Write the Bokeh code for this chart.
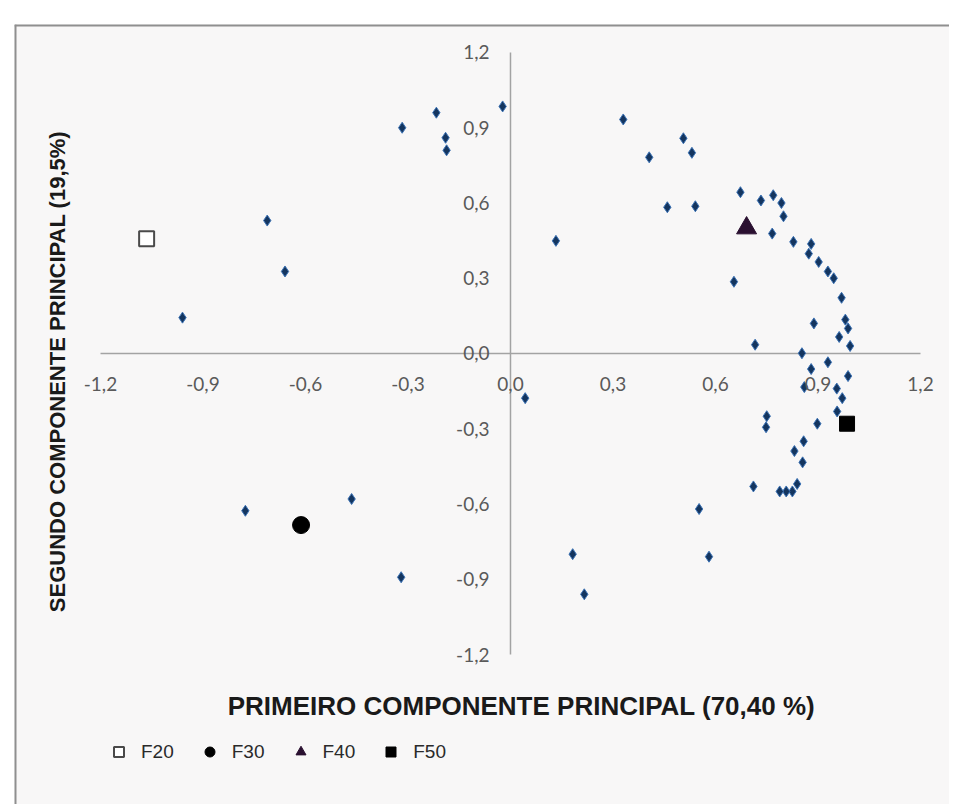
from bokeh.plotting import figure
from bokeh.models import FixedTicker, Legend, LegendItem, Range1d, Label, Span
from bokeh.embed import file_html
from bokeh.resources import INLINE

# ---- data ----
var_x = [-0.317, -0.217, -0.19, -0.187, -0.023, -0.712, -0.66, -0.96,
         0.33, 0.506, 0.531, 0.406, 0.673, 0.733, 0.769, 0.793, 0.799,
         0.459, 0.541, 0.766, 0.133, 0.828, 0.88, 0.873, 0.902, 0.929,
         0.946, 0.654, 0.969, 0.98, 0.988, 0.962, 0.888, 0.994, 0.716,
         0.853, 0.929, 0.88, 0.988, 0.86, 0.955, 0.971, 0.956, 0.898,
         0.75, 0.748, 0.858, 0.831, 0.855, 0.839, 0.825, 0.807, 0.788,
         0.711, 0.552, 0.581, 0.182, 0.216, 0.043, -0.776, -0.465, -0.32]
var_y = [0.90, 0.96, 0.86, 0.81, 0.985, 0.53, 0.327, 0.143,
         0.933, 0.858, 0.80, 0.782, 0.643, 0.61, 0.631, 0.60, 0.547,
         0.583, 0.587, 0.478, 0.449, 0.445, 0.437, 0.398, 0.365, 0.327,
         0.30, 0.286, 0.222, 0.135, 0.10, 0.066, 0.12, 0.03, 0.035,
         0.001, -0.035, -0.062, -0.09, -0.134, -0.14, -0.178, -0.231, -0.28,
         -0.25, -0.294, -0.35, -0.389, -0.434, -0.52, -0.55, -0.55, -0.55,
         -0.53, -0.62, -0.81, -0.80, -0.96, -0.178, -0.627, -0.58, -0.892]

f20_x, f20_y = [-1.065], [0.457]
f30_x, f30_y = [-0.613], [-0.684]
f40_x, f40_y = [0.691], [0.50]
f50_x, f50_y = [0.985], [-0.28]

ticks = [-1.2, -0.9, -0.6, -0.3, 0.0, 0.3, 0.6, 0.9, 1.2]
tick_labels = ["-1,2", "-0,9", "-0,6", "-0,3", "0,0", "0,3", "0,6", "0,9", "1,2"]

x_title = "PRIMEIRO COMPONENTE PRINCIPAL (70,40 %)"
y_title = "SEGUNDO COMPONENTE PRINCIPAL (19,5%)"

FONT = "Liberation Sans"
BG = "#f8f7f7"

# view extends beyond the +-1.2 axes to leave room for titles and legend
X_START, X_END = -1.4517, 1.2849
Y_START, Y_END = -1.798, 1.3116

p = figure(frame_width=935, frame_height=780,
           x_range=Range1d(X_START, X_END), y_range=Range1d(Y_START, Y_END),
           output_backend="svg", toolbar_location=None,
           min_border_left=14, min_border_top=24, min_border_right=0,
           min_border_bottom=0,
           background_fill_color=BG, border_fill_color="white",
           outline_line_color=None)

p.grid.visible = False
overrides = {t: l for t, l in zip(ticks, tick_labels)}
for ax, standoff in ((p.xaxis[0], 18), (p.yaxis[0], 15)):
    ax.fixed_location = 0
    ax.ticker = FixedTicker(ticks=ticks)
    ax.major_label_overrides = overrides
    ax.axis_line_color = None
    ax.major_tick_line_color = None
    ax.minor_tick_line_color = None
    ax.major_label_text_color = "#5a5a5a"
    ax.major_label_text_font = "Lato"
    ax.major_label_text_font_size = "19px"
    ax.major_label_standoff = standoff

# chart-area border (top and left edges)
p.add_layout(Span(location=X_START, dimension="height", line_color="#8f8f8f", line_width=4))
p.add_layout(Span(location=Y_END, dimension="width", line_color="#8f8f8f", line_width=4))

# axis lines crossing at the origin
p.segment(x0=[ticks[0]], y0=[0], x1=[ticks[-1]], y1=[0], line_color="#a3a3a3", line_width=1.5)
p.segment(x0=[0], y0=[ticks[0]], x1=[0], y1=[ticks[-1]], line_color="#a3a3a3", line_width=1.5)

p.scatter(var_x, var_y, marker="diamond", size=11,
          fill_color="#14355f", line_color="#3b72b5", line_width=1)
r20 = p.scatter(f20_x, f20_y, marker="square", size=15,
                fill_color="white", line_color="#4a4a4a", line_width=2)
r30 = p.scatter(f30_x, f30_y, marker="circle", size=17,
                fill_color="black", line_color="black")
r40 = p.scatter(f40_x, f40_y, marker="triangle", size=20,
                fill_color="#2a1030", line_color="#2a1030")
r50 = p.scatter(f50_x, f50_y, marker="square", size=15,
                fill_color="black", line_color="black")

p.add_layout(Label(x=0.032, y=-1.407, text=x_title, text_font=FONT,
                   text_font_size="26px", text_font_style="bold",
                   text_color="#1a1a1a", text_align="center",
                   text_baseline="middle"))
p.add_layout(Label(x=-1.326, y=-0.072, text=y_title, text_font=FONT,
                   text_font_size="22px", text_font_style="bold",
                   text_color="#1a1a1a", text_align="center",
                   text_baseline="middle", angle=90, angle_units="deg"))

legend = Legend(items=[LegendItem(label="F20", renderers=[r20]),
                       LegendItem(label="F30", renderers=[r30]),
                       LegendItem(label="F40", renderers=[r40]),
                       LegendItem(label="F50", renderers=[r50])],
                orientation="horizontal", location=(92, 40),
                background_fill_alpha=0, border_line_color=None,
                label_text_font=FONT, label_text_font_size="19px",
                label_text_color="#2a2a2a",
                glyph_width=25, glyph_height=25, label_standoff=10,
                spacing=23, padding=0, margin=0)
p.add_layout(legend, "center")

open("out.html", "w").write(file_html(p, INLINE))
